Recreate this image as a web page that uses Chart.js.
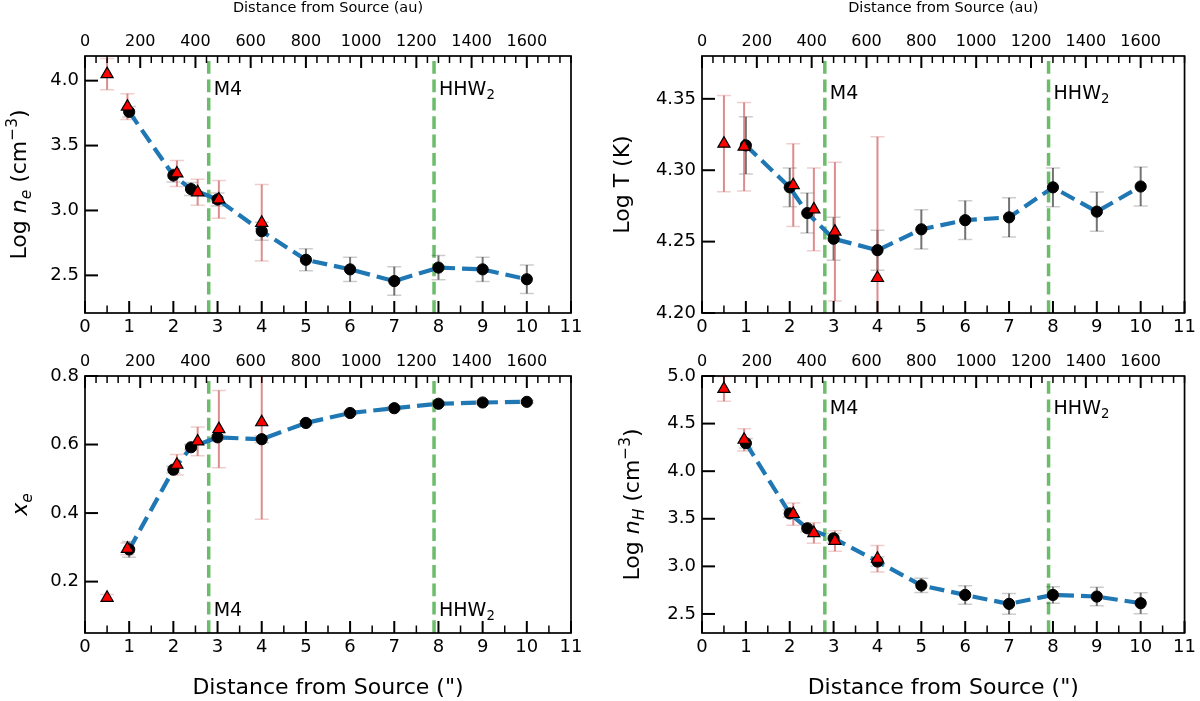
<!DOCTYPE html>
<html>
<head>
<meta charset="utf-8">
<title>Profiles vs distance from source</title>
<script src="https://cdn.jsdelivr.net/npm/chart.js@4.4.1/dist/chart.umd.min.js"></script>
<style>
  html, body { margin: 0; padding: 0; background: #fff; }
  #wrap { position: relative; width: 1200px; height: 701px; overflow: hidden; background: #fff; }
  #wrap canvas { position: absolute; }
</style>
</head>
<body>
<div id="wrap"></div>
<script>
// --- data (distances in arcsec) ---
const xFit = [1, 2, 2.4, 3, 4, 5, 6, 7, 8, 9, 10];
const xTri = [0.5, 0.96, 2.08, 2.55, 3.03, 4.0];

const neFit = [3.76, 3.27, 3.165, 3.085, 2.84, 2.62, 2.546, 2.456, 2.56, 2.546, 2.47];
const neFitErr = [0.04, 0.05, 0.05, 0.05, 0.07, 0.085, 0.094, 0.11, 0.093, 0.094, 0.11];
const neTri = [4.05, 3.80, 3.285, 3.14, 3.085, 2.905];
const neTriErr = [0.12, 0.10, 0.10, 0.10, 0.145, 0.295];

const tFit = [4.3174, 4.288, 4.270, 4.252, 4.244, 4.2586, 4.265, 4.267, 4.288, 4.271, 4.2886];
const tFitErr = [0.02, 0.0136, 0.014, 0.015, 0.014, 0.0137, 0.0136, 0.0137, 0.0135, 0.0137, 0.0137];
const tTri = [4.3186, 4.3165, 4.2895, 4.2726, 4.257, 4.2245];
const tTriErr = [0.0337, 0.031, 0.029, 0.029, 0.0486, 0.099];

const xeFit = [0.2937, 0.5266, 0.592, 0.621, 0.6155, 0.663, 0.692, 0.706, 0.719, 0.7227, 0.7246];
const xeFitErr = [0.023, 0.01, 0.008, 0.006, 0.01, 0.006, 0.005, 0.005, 0.005, 0.004, 0.004];
const xeTri = [0.1527, 0.2957, 0.541, 0.609, 0.645, 0.665];
const xeTriErr = [0.01, 0.017, 0.03, 0.042, 0.113, 0.283];

const nhFit = [4.294, 3.556, 3.40, 3.295, 3.051, 2.80, 2.70, 2.606, 2.70, 2.683, 2.613];
const nhFitErr = [0.05, 0.04, 0.04, 0.05, 0.05, 0.075, 0.097, 0.11, 0.087, 0.097, 0.11];
const nhTri = [4.864, 4.33, 3.55, 3.35, 3.267, 3.08];
const nhTriErr = [0.13, 0.117, 0.117, 0.108, 0.108, 0.14];

// tick labels
const xTicks = [0, 1, 2, 3, 4, 5, 6, 7, 8, 9, 10, 11];
const auTicks = [0, 200, 400, 600, 800, 1000, 1200, 1400, 1600];
const AU_PER_ARCSEC = 160;
const neTicks = [2.5, 3.0, 3.5, 4.0];
const tTicks = [4.20, 4.25, 4.30, 4.35];
const xeTicks = [0.2, 0.4, 0.6, 0.8];
const nhTicks = [2.5, 3.0, 3.5, 4.0, 4.5, 5.0];

// M4 and HHW2 positions
const markerX = [2.8, 7.9];
const markerNames = [[{t: 'M4'}], [{t: 'HHW'}, {t: '2', sub: true}]];

const FAMILY = '"DejaVu Sans", sans-serif';
const cmPart = [{t: ' (cm'}, {t: '\u22123', sup: true}, {t: ')'}];

const panels = [
  {
    left: 0, top: 0, w: 600, h: 345, yW: 85, padR: 29, topH: 56, botH: 32,
    yMin: 2.21, yMax: 4.19, yTicks: neTicks, digits: 1,
    fit: neFit, fitErr: neFitErr, tri: neTri, triErr: neTriErr,
    yTitle: [{t: 'Log '}, {t: 'n', it: true}, {t: 'e', it: true, sub: true}].concat(cmPart),
    yTitleX: 18, labelY: 3.94, topTitle: true, bottomTitle: false
  },
  {
    left: 600, top: 0, w: 600, h: 345, yW: 102, padR: 13, topH: 56, botH: 32,
    yMin: 4.20, yMax: 4.38, yTicks: tTicks, digits: 2,
    fit: tFit, fitErr: tFitErr, tri: tTri, triErr: tTriErr,
    yTitle: [{t: 'Log T (K)'}],
    yTitleX: 21, labelY: 4.355, topTitle: true, bottomTitle: false
  },
  {
    left: 0, top: 345, w: 600, h: 356, yW: 85, padR: 29, topH: 31, botH: 68,
    yMin: 0.05, yMax: 0.8, yTicks: xeTicks, digits: 1,
    fit: xeFit, fitErr: xeFitErr, tri: xeTri, triErr: xeTriErr,
    yTitle: [{t: 'x', it: true}, {t: 'e', it: true, sub: true}],
    yTitleX: 19, labelY: 0.119, topTitle: false, bottomTitle: true
  },
  {
    left: 600, top: 345, w: 600, h: 356, yW: 102, padR: 13, topH: 31, botH: 68,
    yMin: 2.3, yMax: 5.0, yTicks: nhTicks, digits: 1,
    fit: nhFit, fitErr: nhFitErr, tri: nhTri, triErr: nhTriErr,
    yTitle: [{t: 'Log '}, {t: 'n', it: true}, {t: 'H', it: true, sub: true}].concat(cmPart),
    yTitleX: 31, labelY: 4.67, topTitle: false, bottomTitle: true
  }
];

function partFont(p, size) {
  const s = (p.sub || p.sup) ? size * 0.7 : size;
  return (p.it ? 'italic ' : '') + s + 'px ' + FAMILY;
}

// text with italic / sub / sup runs, (x, y) = anchor at vertical middle of caps
function drawRich(ctx, parts, x, y, size, align, rotate) {
  ctx.save();
  ctx.translate(x, y);
  if (rotate) ctx.rotate(rotate);
  ctx.fillStyle = '#000';
  ctx.textBaseline = 'alphabetic';
  ctx.textAlign = 'left';
  let w = 0;
  parts.forEach(p => { ctx.font = partFont(p, size); w += ctx.measureText(p.t).width; });
  let cx = align === 'center' ? -w / 2 : 0;
  const base = size * 0.36;
  parts.forEach(p => {
    ctx.font = partFont(p, size);
    const dy = p.sub ? size * 0.22 : (p.sup ? -size * 0.42 : 0);
    ctx.fillText(p.t, cx, base + dy);
    cx += ctx.measureText(p.t).width;
  });
  ctx.restore();
}

function errorBars(ctx, xs, ys, errs, sx, sy, lineColor, capColor) {
  xs.forEach((x, i) => {
    const px = sx.getPixelForValue(x);
    const lo = sy.getPixelForValue(ys[i] - errs[i]);
    const hi = sy.getPixelForValue(ys[i] + errs[i]);
    ctx.strokeStyle = lineColor;
    ctx.lineWidth = 2;
    ctx.beginPath(); ctx.moveTo(px, lo); ctx.lineTo(px, hi); ctx.stroke();
    ctx.strokeStyle = capColor;
    ctx.lineWidth = 1.5;
    ctx.beginPath();
    ctx.moveTo(px - 7, lo); ctx.lineTo(px + 7, lo);
    ctx.moveTo(px - 7, hi); ctx.lineTo(px + 7, hi);
    ctx.stroke();
  });
}

function panelPlugin(p) {
  return {
    id: 'panelDecor',
    beforeDatasetsDraw(chart) {
      const {ctx, chartArea: a, scales} = chart;
      ctx.save();
      ctx.beginPath();
      ctx.rect(a.left, a.top, a.right - a.left, a.bottom - a.top);
      ctx.clip();
      // vertical markers
      ctx.strokeStyle = 'rgba(44,160,44,0.7)';
      ctx.lineWidth = 3.5;
      ctx.setLineDash([12.8, 5.6]);
      markerX.forEach(v => {
        const px = scales.x.getPixelForValue(v);
        ctx.beginPath(); ctx.moveTo(px, a.bottom); ctx.lineTo(px, a.top); ctx.stroke();
      });
      ctx.setLineDash([]);
      errorBars(ctx, xFit, p.fit, p.fitErr, scales.x, scales.y, 'rgba(0,0,0,0.55)', 'rgba(0,0,0,0.2)');
      errorBars(ctx, xTri, p.tri, p.triErr, scales.x, scales.y, 'rgba(205,92,92,0.7)', 'rgba(205,92,92,0.3)');
      ctx.restore();
    },
    afterDraw(chart) {
      const {ctx, chartArea: a, scales} = chart;
      ctx.save();
      ctx.strokeStyle = '#000';
      // inward ticks
      const tick = (x1, y1, x2, y2, lw) => {
        ctx.lineWidth = lw;
        ctx.beginPath(); ctx.moveTo(x1, y1); ctx.lineTo(x2, y2); ctx.stroke();
      };
      for (let v = 0; v <= 11.001; v += 0.5) {
        const px = scales.x.getPixelForValue(v);
        const major = Math.abs(v - Math.round(v)) < 1e-6;
        tick(px, a.bottom, px, a.bottom - (major ? 12 : 7.5), major ? 2 : 1.5);
      }
      for (let v = 0; v <= 11 * AU_PER_ARCSEC + 0.1; v += 40) {
        const px = scales.x2.getPixelForValue(v);
        const major = v % 200 === 0;
        tick(px, a.top, px, a.top + (major ? 12 : 7), major ? 2 : 1.5);
      }
      p.yTicks.forEach(v => {
        const py = scales.y.getPixelForValue(v);
        tick(a.left, py, a.left + 13, py, 2);
      });
      // frame
      ctx.lineWidth = 1.7;
      ctx.strokeRect(a.left, a.top, a.right - a.left, a.bottom - a.top);
      ctx.restore();

      // marker labels
      const ly = scales.y.getPixelForValue(p.labelY);
      markerX.forEach((v, i) => {
        drawRich(ctx, markerNames[i], scales.x.getPixelForValue(v) + 5, ly, 19, 'left', 0);
      });
      // y title
      drawRich(ctx, p.yTitle, p.yTitleX, (a.top + a.bottom) / 2, 22, 'center', -Math.PI / 2);
    }
  };
}

const wrap = document.getElementById('wrap');

panels.forEach(p => {
  const canvas = document.createElement('canvas');
  canvas.width = p.w;
  canvas.height = p.h;
  canvas.style.left = p.left + 'px';
  canvas.style.top = p.top + 'px';
  canvas.style.width = p.w + 'px';
  canvas.style.height = p.h + 'px';
  wrap.appendChild(canvas);

  new Chart(canvas, {
    type: 'line',
    data: {
      datasets: [
        {
          label: 'triangles',
          data: xTri.map((x, i) => ({x: x, y: p.tri[i]})),
          showLine: false,
          pointStyle: 'triangle',
          pointRadius: 7,
          pointBackgroundColor: '#ff0000',
          pointBorderColor: '#000000',
          pointBorderWidth: 1.2
        },
        {
          label: 'fit',
          data: xFit.map((x, i) => ({x: x, y: p.fit[i]})),
          borderColor: '#1f77b4',
          borderWidth: 4.2,
          borderDash: [15, 7],
          tension: 0,
          pointRadius: 5.6,
          pointBackgroundColor: '#000000',
          pointBorderColor: '#000000',
          pointBorderWidth: 1
        }
      ]
    },
    options: {
      responsive: false,
      animation: false,
      events: [],
      layout: { autoPadding: false, padding: { left: 0, right: p.padR, top: 0, bottom: 0 } },
      plugins: { legend: { display: false }, tooltip: { enabled: false } },
      scales: {
        x: {
          type: 'linear', position: 'bottom', min: 0, max: 11,
          afterBuildTicks: s => { s.ticks = xTicks.map(v => ({value: v})); },
          afterFit: s => { s.height = p.botH; },
          grid: { display: false, drawTicks: false },
          border: { display: false },
          ticks: { color: '#000', font: { family: FAMILY, size: 18 }, padding: 4, maxRotation: 0, autoSkip: false,
                   callback: v => String(v) },
          title: { display: p.bottomTitle, text: 'Distance from Source (")', color: '#000',
                   font: { family: FAMILY, size: 22 }, padding: { top: 0, bottom: 0 } }
        },
        x2: {
          type: 'linear', position: 'top', min: 0, max: 11 * AU_PER_ARCSEC,
          afterBuildTicks: s => { s.ticks = auTicks.map(v => ({value: v})); },
          afterFit: s => { s.height = p.topH; },
          grid: { display: false, drawTicks: false },
          border: { display: false },
          ticks: { color: '#000', font: { family: FAMILY, size: 16 }, padding: 5, maxRotation: 0, autoSkip: false,
                   callback: v => String(v) },
          title: { display: p.topTitle, text: 'Distance from Source (au)', color: '#000',
                   font: { family: FAMILY, size: 14.5 }, padding: { top: 0, bottom: 0 } }
        },
        y: {
          type: 'linear', position: 'left', min: p.yMin, max: p.yMax,
          afterBuildTicks: s => { s.ticks = p.yTicks.map(v => ({value: v})); },
          afterFit: s => { s.width = p.yW; },
          grid: { display: false, drawTicks: false },
          border: { display: false },
          ticks: { color: '#000', font: { family: FAMILY, size: 18 }, padding: 6, autoSkip: false,
                   callback: v => Number(v).toFixed(p.digits) }
        }
      }
    },
    plugins: [panelPlugin(p)]
  });
});
</script>
</body>
</html>
